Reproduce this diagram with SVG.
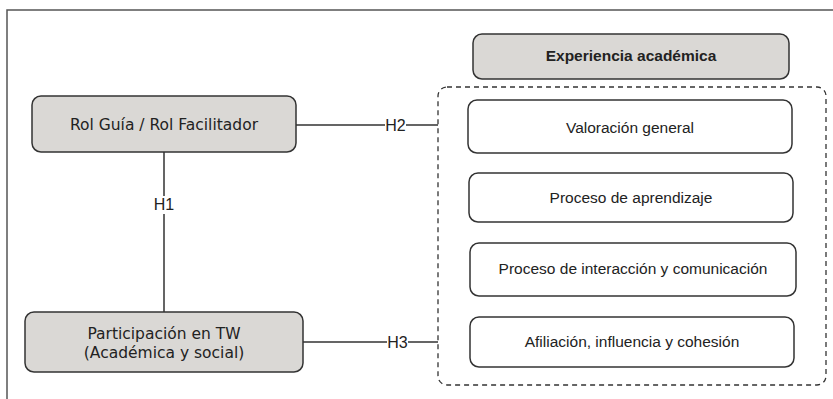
<svg xmlns="http://www.w3.org/2000/svg" width="833" height="399" viewBox="0 0 833 399">
<style>
.frame{fill:none;stroke:#555;stroke-width:1.5}
.box{stroke:#333;stroke-width:1.5}
.grey{fill:#dad8d5}
.white{fill:#fff}
.conn{fill:none;stroke:#333;stroke-width:1.5}
.dash{fill:none;stroke:#333;stroke-width:1.3;stroke-dasharray:5 4}
.v{font-family:"DejaVu Sans",Verdana,sans-serif;font-size:15.5px;fill:#222;text-anchor:middle}
.a{font-family:"Liberation Sans",Arial,sans-serif;font-size:15.5px;fill:#222;text-anchor:middle}
.b{font-weight:bold}
.h{font-family:"Liberation Sans",Arial,sans-serif;font-size:16px;fill:#222;text-anchor:middle}
</style>
<rect width="833" height="399" fill="#fff"/>
<path class="frame" d="M7,399 V10 H833"/>
<g id="connectors">
<path class="conn" d="M164,152 V196 M164,214 V312"/>
<text class="h" x="164" y="210">H1</text>
<path class="conn" d="M296,125 H385 M406,125 H438"/>
<text class="h" x="395.5" y="130.5">H2</text>
<path class="conn" d="M303,342 H387 M408,342 H438"/>
<text class="h" x="397.5" y="347.5">H3</text>
</g>
<g id="rol">
<rect class="box grey" x="32" y="96" width="264" height="56" rx="9"/>
<text class="v" x="164" y="129.5">Rol Guía / Rol Facilitador</text>
</g>
<g id="participacion">
<rect class="box grey" x="25" y="312" width="278" height="60" rx="9"/>
<text class="v" x="164" y="338.5">Participación en TW</text>
<text class="v" x="164" y="357.5">(Académica y social)</text>
</g>
<g id="experiencia">
<rect class="box grey" x="473" y="34" width="316" height="45" rx="9"/>
<text class="a b" x="631" y="60.5">Experiencia académica</text>
</g>
<g id="grupo">
<rect class="dash" x="438" y="87" width="388" height="298" rx="9"/>
</g>
<g id="valoracion">
<rect class="box white" x="468" y="100" width="324" height="53" rx="9"/>
<text class="a" x="630" y="132.5">Valoración general</text>
</g>
<g id="aprendizaje">
<rect class="box white" x="469" y="173" width="324" height="49" rx="9"/>
<text class="a" x="631" y="203">Proceso de aprendizaje</text>
</g>
<g id="interaccion">
<rect class="box white" x="470" y="243" width="326" height="53" rx="9"/>
<text class="a" x="633" y="273.5">Proceso de interacción y comunicación</text>
</g>
<g id="afiliacion">
<rect class="box white" x="470" y="317" width="324" height="50" rx="9"/>
<text class="a" x="632" y="346.5">Afiliación, influencia y cohesión</text>
</g>
</svg>
